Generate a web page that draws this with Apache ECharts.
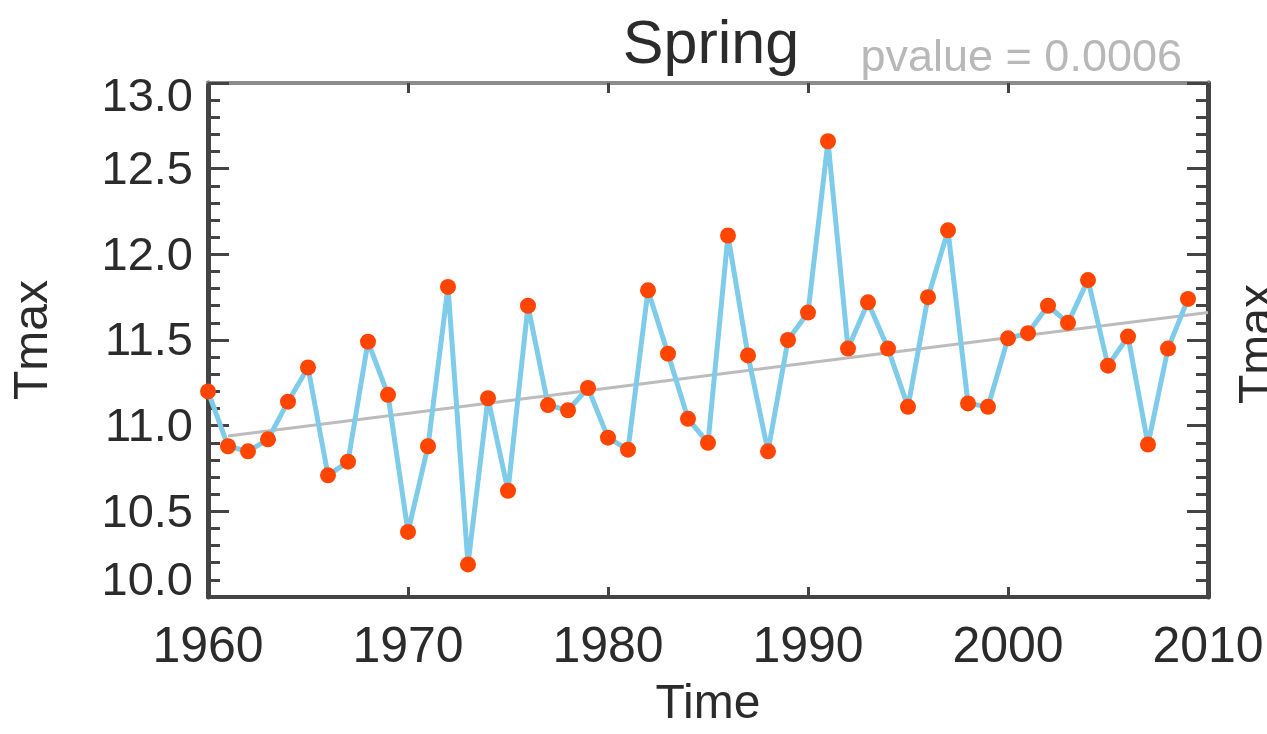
<!DOCTYPE html>
<html>
<head>
<meta charset="utf-8">
<title>Spring Tmax</title>
<script src="https://cdn.jsdelivr.net/npm/echarts@6/dist/echarts.min.js"></script>
<style>
  html, body { margin: 0; padding: 0; background: #fff; }
  #chart { width: 1267px; height: 734px; }
</style>
</head>
<body>
<div id="chart"></div>
<script>
// yearly spring Tmax, 1960-2009
const years = [
  1960, 1961, 1962, 1963, 1964, 1965, 1966, 1967, 1968, 1969,
  1970, 1971, 1972, 1973, 1974, 1975, 1976, 1977, 1978, 1979,
  1980, 1981, 1982, 1983, 1984, 1985, 1986, 1987, 1988, 1989,
  1990, 1991, 1992, 1993, 1994, 1995, 1996, 1997, 1998, 1999,
  2000, 2001, 2002, 2003, 2004, 2005, 2006, 2007, 2008, 2009
]
const tmax = [
  11.20, 10.88, 10.85, 10.92, 11.14, 11.34, 10.71, 10.79, 11.49, 11.18,
  10.38, 10.88, 11.81, 10.19, 11.16, 10.62, 11.70, 11.12, 11.09, 11.22,
  10.93, 10.86, 11.79, 11.42, 11.04, 10.90, 12.11, 11.41, 10.85, 11.50,
  11.66, 12.66, 11.45, 11.72, 11.45, 11.11, 11.75, 12.14, 11.13, 11.11,
  11.51, 11.54, 11.70, 11.60, 11.85, 11.35, 11.52, 10.89, 11.45, 11.74
]
// linear trend end points
const trendYears = [1961, 2010]
const trendValues = [10.94, 11.66]

const xTicks = [1960, 1970, 1980, 1990, 2000, 2010]
const yTicks = ['10.0', '10.5', '11.0', '11.5', '12.0', '12.5', '13.0']

const titleText = 'Spring'
const pvalueText = 'pvalue = 0.0006'

const FONT = 'Liberation Sans'
const TEXT = '#2b2b2b'
const AXIS_DARK = '#444'

const chart = echarts.init(document.getElementById('chart'))

const pointData = years.map((y, i) => [y, tmax[i]])
const trendData = trendYears.map((y, i) => [y, trendValues[i]])

chart.setOption({
  animation: false,
  title: [
    {
      text: titleText,
      left: 706,
      textAlign: 'center',
      top: 11,
      textStyle: { fontFamily: FONT, fontSize: 61, fontWeight: 'normal', color: TEXT }
    },
    {
      text: pvalueText,
      right: 80,
      top: 31,
      textStyle: { fontFamily: FONT, fontSize: 45, fontWeight: 'normal', color: '#b8b8b8' }
    }
  ],
  grid: { left: 208, right: 59, top: 83, bottom: 135, containLabel: false },
  xAxis: [
    {
      type: 'value',
      position: 'bottom',
      min: xTicks[0],
      max: xTicks[xTicks.length - 1],
      interval: 10,
      name: 'Time',
      nameLocation: 'middle',
      nameGap: 84,
      nameTextStyle: { fontFamily: FONT, fontSize: 48, color: TEXT },
      axisLine: { lineStyle: { color: AXIS_DARK, width: 4 } },
      axisTick: { inside: true, length: 10, lineStyle: { color: AXIS_DARK, width: 3 } },
      axisLabel: {
        fontFamily: FONT, fontSize: 50, color: TEXT, margin: 26,
        formatter: v => String(v)
      },
      splitLine: { show: false }
    },
    {
      type: 'value',
      position: 'top',
      min: xTicks[0],
      max: xTicks[xTicks.length - 1],
      interval: 10,
      axisLine: { lineStyle: { color: '#8c8c8c', width: 4 } },
      axisTick: { inside: true, length: 10, lineStyle: { color: AXIS_DARK, width: 3 } },
      axisLabel: { show: false },
      splitLine: { show: false }
    }
  ],
  yAxis: [
    {
      type: 'value',
      position: 'left',
      min: 10,
      max: 13,
      interval: 0.5,
      name: 'Tmax',
      nameLocation: 'middle',
      nameRotate: 90,
      nameGap: 150,
      nameTextStyle: { fontFamily: FONT, fontSize: 48, color: TEXT },
      axisLine: { lineStyle: { color: AXIS_DARK, width: 5 } },
      axisTick: { inside: true, length: 21, lineStyle: { color: AXIS_DARK, width: 3 } },
      minorTick: { show: true, splitNumber: 5, length: 12, lineStyle: { color: AXIS_DARK, width: 3 } },
      axisLabel: {
        fontFamily: FONT, fontSize: 47, color: TEXT, margin: 15,
        formatter: v => {
          const s = yTicks[Math.round((v - 10) / 0.5)]
          if (v >= 13) return '{hi|' + s + '}'
          if (v <= 10) return '{lo|' + s + '}'
          return '{mid|' + s + '}'
        },
        rich: {
          hi: { fontFamily: FONT, fontSize: 47, color: TEXT, padding: [30, 0, 0, 0] },
          lo: { fontFamily: FONT, fontSize: 47, color: TEXT, padding: [0, 0, 30, 0] },
          mid: { fontFamily: FONT, fontSize: 47, color: TEXT, padding: [5, 0, 0, 0] }
        }
      },
      splitLine: { show: false }
    },
    {
      type: 'value',
      position: 'right',
      min: 10,
      max: 13,
      interval: 0.5,
      axisLine: { show: true, lineStyle: { color: AXIS_DARK, width: 5 } },
      axisTick: { show: true, inside: true, length: 21, lineStyle: { color: AXIS_DARK, width: 3 } },
      minorTick: { show: true, splitNumber: 5, length: 12, lineStyle: { color: AXIS_DARK, width: 3 } },
      axisLabel: { show: false },
      splitLine: { show: false }
    }
  ],
  graphic: [
    {
      // y title of the neighbouring panel, cut by the right edge
      type: 'text',
      x: 1235,
      y: 344,
      rotation: Math.PI / 2,
      style: {
        text: 'Tmax',
        fontFamily: FONT,
        fontSize: 48,
        fill: TEXT,
        align: 'center',
        verticalAlign: 'top'
      }
    }
  ],
  series: [
    {
      name: 'trend',
      type: 'line',
      data: trendData,
      symbol: 'none',
      lineStyle: { color: '#bcbcbc', width: 3 },
      z: 2
    },
    {
      name: 'Tmax',
      type: 'line',
      data: pointData,
      symbol: 'circle',
      symbolSize: 16,
      itemStyle: { color: '#ff4500' },
      lineStyle: { color: '#7ecbea', width: 5 },
      z: 3
    }
  ]
})
</script>
</body>
</html>
